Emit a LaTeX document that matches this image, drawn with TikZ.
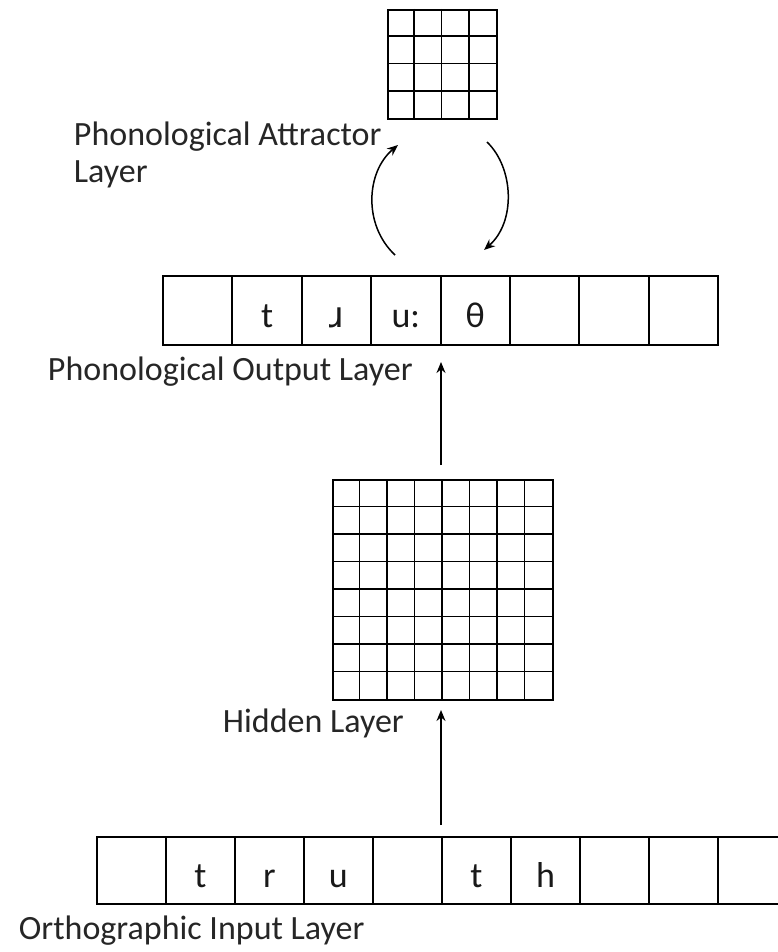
\documentclass[tikz,border=0pt]{standalone}
\usepackage{fontspec}
\setmainfont{Carlito}
\newfontfamily\ipafont{DejaVu Sans}
\usetikzlibrary{arrows.meta}
\begin{document}
\begin{tikzpicture}[x=1pt,y=-1pt, line width=1.9pt,
 lbl/.style={font=\fontsize{34}{37}\selectfont, anchor=west, inner sep=0, text=black!85},
 cellbox/.style={draw, minimum width=69.4pt, minimum height=69pt, inner sep=0, anchor=north west,
   font=\fontsize{36}{38}\selectfont, text height=35pt, text depth=0pt, text=black!90},
 gridbox/.style={draw, inner sep=0, anchor=north west},
 arr/.style={line width=1.5pt, -{Stealth[length=11pt,width=9pt]}}]
\useasboundingbox (0,0) rectangle (778,952);
% attractor grid
\node[gridbox, minimum size=109pt] (attr) at (387,9) {};
\foreach \i in {1,2,3} {
  \draw (387+27.25*\i,9) -- (387+27.25*\i,118);
  \draw (387,9+27.25*\i) -- (496,9+27.25*\i);
}
\node[lbl, anchor=north west, align=left] (attrlbl) at (73,121) {Phonological Attractor\\Layer};
% output layer
\foreach \i/\t in {0/,1/t,2/{\ipafont ɹ},3/u:,4/θ,5/,6/,7/} {
  \node[cellbox] (o\i) at (162+69.4*\i,275) {\t};
}
\node[lbl] (outlbl) at (47,372) {Phonological Output Layer};
% attractor loop
\coordinate (la) at (395,255);
\coordinate (lb) at (398,145);
\coordinate (ra) at (487,142);
\coordinate (rb) at (484,250);
\draw[arr] (la) .. controls (363,225) and (366,172) .. (lb);
\draw[arr] (ra) .. controls (514,168) and (516,222) .. (rb);
% hidden layer
\node[gridbox, minimum size=220pt] (hid) at (332,479) {};
\foreach \i in {1,...,7} {
  \draw (332+27.5*\i,479) -- (332+27.5*\i,699);
  \draw (332,479+27.5*\i) -- (552,479+27.5*\i);
}
\node[lbl] (hidlbl) at (222,723) {Hidden Layer};
% input layer
\foreach \i/\t in {0/,1/t,2/r,3/u,4/,5/t,6/h,7/,8/,9/,10/} {
  \node[cellbox, minimum width=69pt, minimum height=67pt] (i\i) at (96+69*\i,836) {\t};
}
\node[lbl] (inlbl) at (18,931) {Orthographic Input Layer};
% feedforward arrows
\coordinate (a1s) at (441,825);
\coordinate (a1e) at (441,710);
\coordinate (a2s) at (441,465);
\coordinate (a2e) at (441,362);
\draw[arr] (a1s) -- (a1e);
\draw[arr] (a2s) -- (a2e);
\end{tikzpicture}
\end{document}
